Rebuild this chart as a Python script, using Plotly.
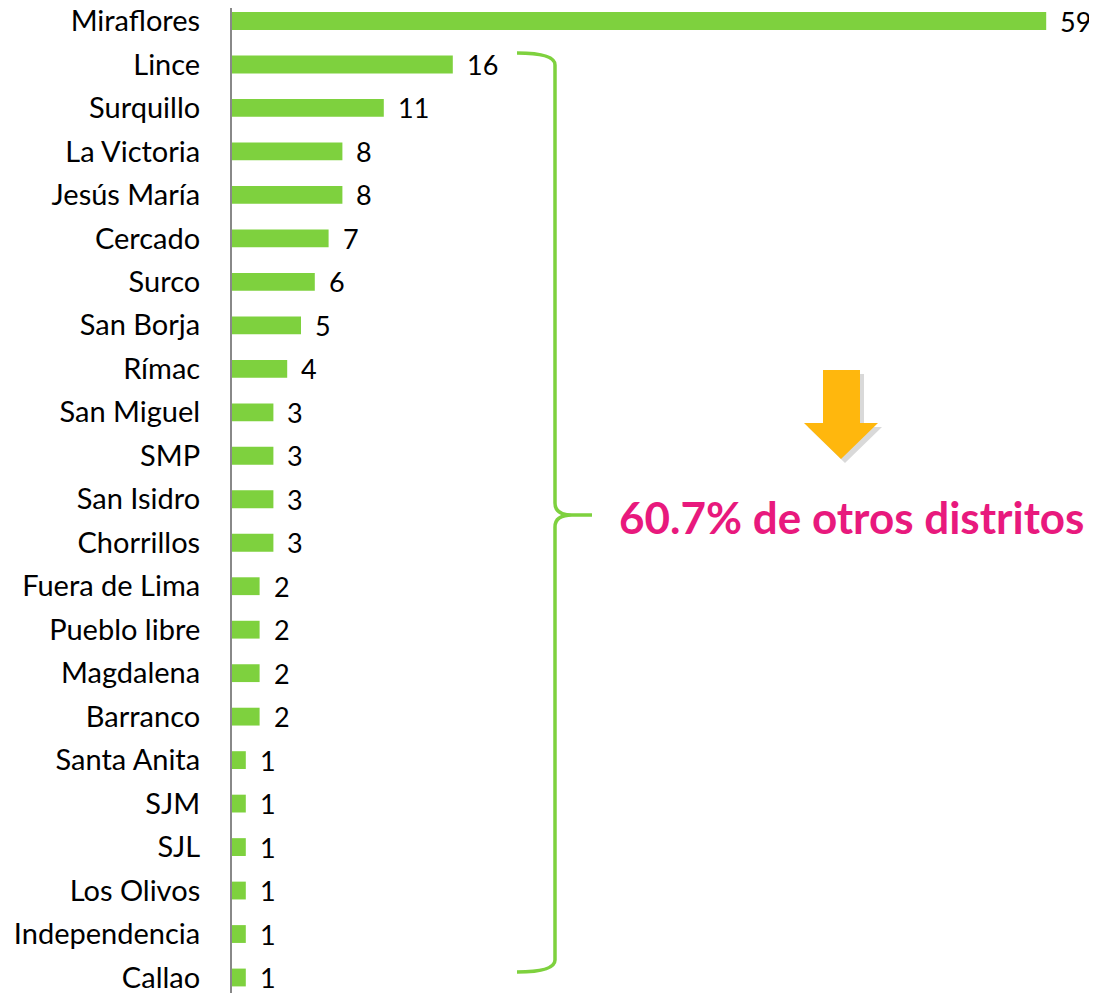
import plotly.graph_objects as go

districts = ["Miraflores", "Lince", "Surquillo", "La Victoria", "Jesús María", "Cercado",
             "Surco", "San Borja", "Rímac", "San Miguel", "SMP", "San Isidro", "Chorrillos",
             "Fuera de Lima", "Pueblo libre", "Magdalena", "Barranco", "Santa Anita", "SJM",
             "SJL", "Los Olivos", "Independencia", "Callao"]
counts = [59, 16, 11, 8, 8, 7, 6, 5, 4, 3, 3, 3, 3, 2, 2, 2, 2, 1, 1, 1, 1, 1, 1]
note_text = "60.7% de otros distritos"

OFF = 8                      # page body margin
W, H = 1097 - OFF, 993 - OFF
L = 232 - OFF
GREEN = "#7ED13E"
FONT = "Lato"
ROW = 43.48
PXU = 13.8

fig = go.Figure()
fig.add_trace(go.Bar(
    x=counts, y=districts, orientation="h",
    marker=dict(color=GREEN, line=dict(width=0)),
    width=0.41, hoverinfo="skip",
))

for d, c in zip(districts, counts):
    fig.add_annotation(x=c, y=d, xref="x", yref="y", text=str(c), showarrow=False,
                       xanchor="left", xshift=12, font=dict(family=FONT, size=27, color="#000"))

# reference-pixel -> paper helpers
def px(x):
    return (x - OFF - L) / (W - L)

def py(y):
    return 1 - (y - OFF) / H

def path(points, close=False):
    s = "M " + " L ".join(f"{px(x):.5f},{py(y):.5f}" for x, y in points)
    return s + (" Z" if close else "")

# curly brace
top, mid, bot = 53, 515, 972
xl, xv, xt = 517, 555, 592
r = 12
brace = (f"M {px(xl):.5f},{py(top):.5f} "
         f"Q {px(xv):.5f},{py(top):.5f} {px(xv):.5f},{py(top + r):.5f} "
         f"L {px(xv):.5f},{py(mid - r):.5f} "
         f"Q {px(xv):.5f},{py(mid):.5f} {px(xt - 20):.5f},{py(mid):.5f} "
         f"L {px(xt):.5f},{py(mid):.5f} "
         f"M {px(xt - 20):.5f},{py(mid):.5f} "
         f"Q {px(xv):.5f},{py(mid):.5f} {px(xv):.5f},{py(mid + r):.5f} "
         f"L {px(xv):.5f},{py(bot - r):.5f} "
         f"Q {px(xv):.5f},{py(bot):.5f} {px(xl):.5f},{py(bot):.5f}")
fig.add_shape(type="path", path=brace, xref="paper", yref="paper",
              line=dict(color=GREEN, width=3.5))

# arrow (shadow + arrow)
arrow_pts = [(823, 370), (860, 370), (860, 423), (878, 423), (841, 459), (804, 423), (823, 423)]
shadow_pts = [(x + 4, y + 4) for x, y in arrow_pts]
fig.add_shape(type="path", path=path(shadow_pts, True), xref="paper", yref="paper",
              fillcolor="rgba(0,0,0,0.15)", line=dict(width=0))
fig.add_shape(type="path", path=path(arrow_pts, True), xref="paper", yref="paper",
              fillcolor="#FFB70D", line=dict(width=0))

fig.add_annotation(x=px(851), y=py(517), xref="paper", yref="paper", text=f"<b>{note_text}</b>",
                   showarrow=False, xanchor="center", yanchor="middle",
                   font=dict(family=FONT, size=44, color="#E8197D"))

n = len(districts)
fig.update_layout(
    width=W, height=H,
    margin=dict(l=L, r=0, t=0, b=0),
    plot_bgcolor="white", paper_bgcolor="white",
    showlegend=False,
    xaxis=dict(range=[0, (W - L) / PXU], visible=False, fixedrange=True),
    yaxis=dict(categoryorder="array", categoryarray=districts,
               range=[n - 1 + (993 - 977.5) / ROW, -(21 - OFF) / ROW],
               showline=True, linecolor="#888888", linewidth=2,
               ticks="", ticklabelstandoff=24, showgrid=False, zeroline=False,
               automargin=False,
               tickfont=dict(family=FONT, size=29, color="#000")),
)
fig.write_html("out.html")
